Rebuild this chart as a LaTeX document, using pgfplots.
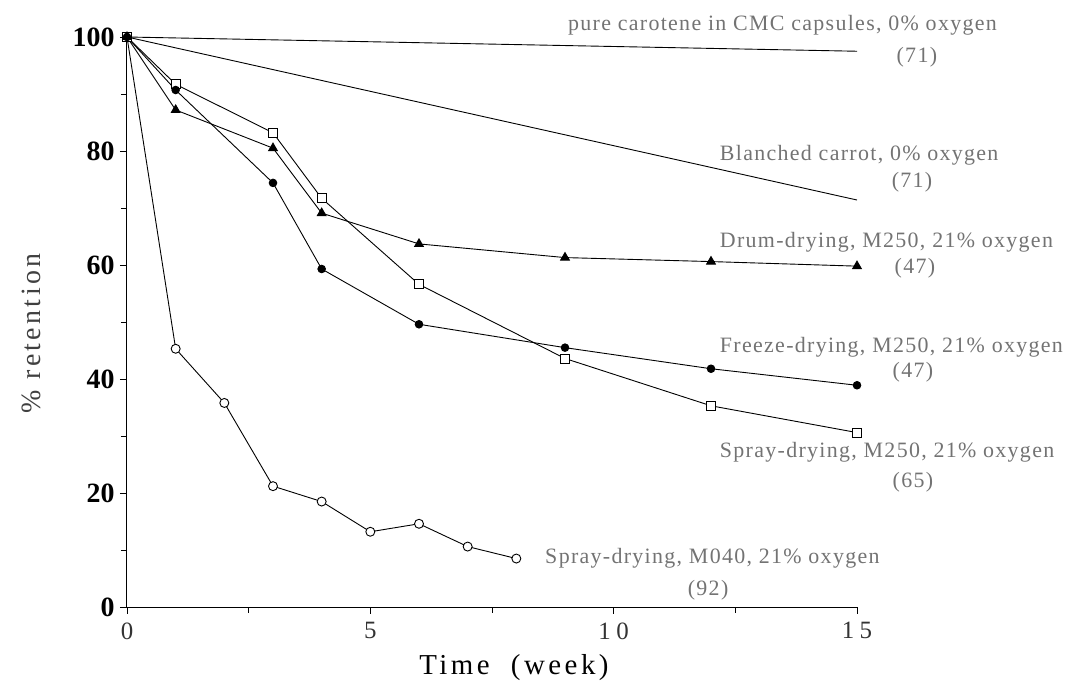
\documentclass[border=0pt]{standalone}
\usepackage{fontspec}
\usepackage{pgfplots}
\pgfplotsset{compat=1.18}
\setmainfont{Liberation Serif}
\newfontfamily\annfont{Liberation Serif}[LetterSpace=6]
\newfontfamily\labfont{Liberation Serif}[LetterSpace=12]
\newfontfamily\tickfont{Liberation Serif}[LetterSpace=22]

\definecolor{anngray}{gray}{0.45}

\begin{document}
\begin{tikzpicture}
\path[use as bounding box] (-127bp,-75bp) rectangle (947bp,607bp);
\begin{axis}[
    width=730bp, height=570bp, scale only axis,
    xmin=0, xmax=15, ymin=0, ymax=100,
    axis x line*=bottom, axis y line*=left,
    clip=false,
    xtick={0,5,10,15}, xticklabels={0,5,10,15},
    minor xtick={2.5,7.5,12.5},
    ytick={0,20,40,60,80,100}, yticklabels={0,20,40,60,80,100},
    minor ytick={10,30,50,70,90},
    tick align=outside,
    major tick length=7bp, minor tick length=6bp,
    tick style={black, line width=0.9bp},
    axis line style={line width=1bp},
    xticklabel style={font=\tickfont\fontsize{25}{28}\selectfont, text=black!80, yshift=-5bp},
    yticklabel style={font=\bfseries\fontsize{28}{30}\selectfont, xshift=-2bp},
    xlabel={Time\ \ (week)},
    xlabel style={font=\labfont\fontsize{29}{32}\selectfont, at={(axis description cs:0.53,-0.107)}, anchor=center},
    ylabel={\% retention},
    ylabel style={font=\labfont\fontsize{28}{30}\selectfont, text=black!75, at={(axis description cs:-0.1315,0.48)}, anchor=center, rotate=0},
    every axis plot/.append style={black, line width=0.9bp},
]
% pure carotene in CMC capsules
\addplot[mark=none] coordinates {(0,100) (15,97.5)};
% blanched carrot
\addplot[mark=none] coordinates {(0,100) (15,71.4)};
% spray-drying M040
\addplot[mark=*, mark size=4.5bp, mark options={fill=white}] coordinates {
  (0,100) (1,45.3) (2,35.8) (3,21.2) (4,18.5) (5,13.2) (6,14.6) (7,10.6) (8,8.5)};
% spray-drying M250
\addplot[mark=square*, mark size=4.5bp, mark options={fill=white}] coordinates {
  (0,100) (1,91.7) (3,83.2) (4,71.7) (6,56.6) (9,43.6) (12,35.3) (15,30.6)};
% drum-drying M250
\addplot[mark=triangle*, mark size=5bp] coordinates {
  (0,100) (1,87.2) (3,80.5) (4,69.1) (6,63.7) (9,61.3) (12,60.6) (15,59.8)};
% freeze-drying M250
\addplot[mark=*, mark size=3.8bp] coordinates {
  (0,100) (1,90.7) (3,74.4) (4,59.3) (6,49.6) (9,45.5) (12,41.8) (15,38.9)};

\begin{scope}[every node/.style={font=\annfont\fontsize{22}{24}\selectfont, text=anngray, inner sep=0pt}]
\node[anchor=west] at (axis cs:9.06,102.1) {pure carotene in CMC capsules, 0\% oxygen};
\node at (axis cs:16.23,96.5) {(71)};
\node[anchor=west] at (axis cs:12.18,79.3) {Blanched carrot, 0\% oxygen};
\node at (axis cs:16.13,74.6) {(71)};
\node[anchor=west] at (axis cs:12.18,64.0) {Drum-drying, M250, 21\% oxygen};
\node at (axis cs:16.19,59.5) {(47)};
\node[anchor=west] at (axis cs:12.18,45.6) {Freeze-drying, M250, 21\% oxygen};
\node at (axis cs:16.15,41.2) {(47)};
\node[anchor=west] at (axis cs:12.18,27.2) {Spray-drying, M250, 21\% oxygen};
\node at (axis cs:16.15,21.9) {(65)};
\node[anchor=west] at (axis cs:8.59,8.6) {Spray-drying, M040, 21\% oxygen};
\node at (axis cs:11.94,3.0) {(92)};
\end{scope}
\end{axis}
\end{tikzpicture}
\end{document}
